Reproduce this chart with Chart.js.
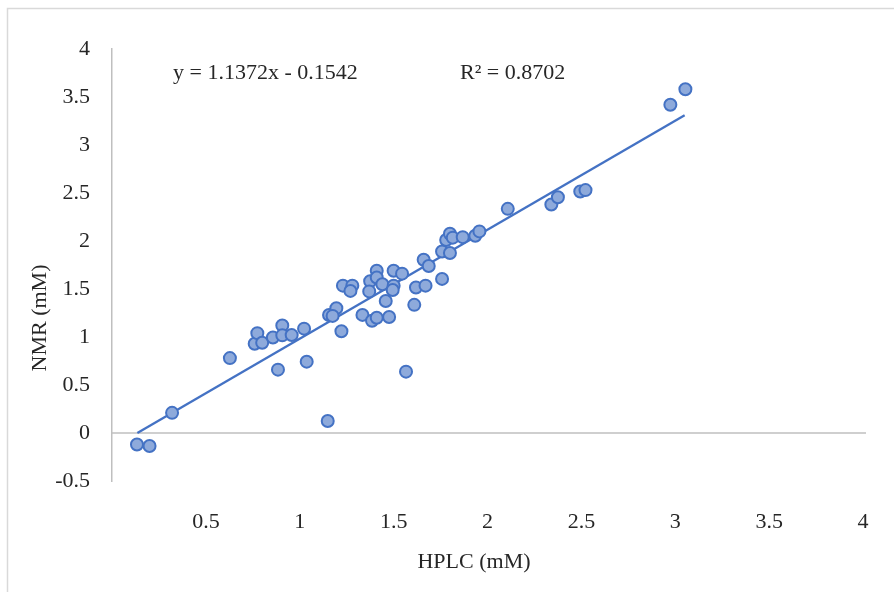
<!DOCTYPE html>
<html>
<head>
<meta charset="utf-8">
<script src="https://cdn.jsdelivr.net/npm/chart.js@4.4.0/dist/chart.umd.min.js"></script>
<style>
  html, body { margin:0; padding:0; background:#fff; }
  #wrap { width:894px; height:592px; position:relative; }
</style>
</head>
<body>
<div id="wrap"><canvas id="chart1"></canvas></div>
<script>
// ── DATA ──────────────────────────────────────────────────
const hplc = [
  0.133, 0.20, 0.32, 0.628, 0.76, 0.774, 0.80, 0.857, 0.884, 0.907,
  0.907, 0.957, 1.023, 1.037, 1.149, 1.156, 1.195, 1.175, 1.222, 1.23,
  1.28, 1.27, 1.334, 1.385, 1.41, 1.476, 1.375, 1.37, 1.41, 1.41,
  1.44, 1.458, 1.50, 1.545, 1.50, 1.495, 1.566, 1.61, 1.619, 1.67,
  1.66, 1.687, 1.758, 1.758, 1.80, 1.78, 1.80, 1.815, 1.868, 1.935,
  1.957, 2.108, 2.34, 2.375, 2.494, 2.522, 2.974, 3.054,
];
const nmr = [
  -0.12, -0.135, 0.21, 0.78, 0.93, 1.04, 0.94, 0.995, 0.66, 1.12,
  1.017, 1.02, 1.087, 0.743, 0.125, 1.229, 1.299, 1.22, 1.06, 1.535,
  1.535, 1.48, 1.23, 1.17, 1.20, 1.208, 1.58, 1.475, 1.69, 1.62,
  1.55, 1.375, 1.69, 1.66, 1.535, 1.49, 0.639, 1.335, 1.515, 1.535,
  1.805, 1.74, 1.605, 1.89, 1.875, 2.01, 2.075, 2.035, 2.04, 2.055,
  2.10, 2.335, 2.38, 2.455, 2.515, 2.53, 3.42, 3.58,
];
// trendline end points
const trendX = [0.135, 3.05];
const trendY = [0.0, 3.31];

const xTicks = [0, 0.5, 1, 1.5, 2, 2.5, 3, 3.5, 4];
const yTicks = [-0.5, 0, 0.5, 1, 1.5, 2, 2.5, 3, 3.5, 4];

const eqText = 'y = 1.1372x - 0.1542';
const r2Text = 'R² = 0.8702';
const xTitle = 'HPLC (mM)';
const yTitle = 'NMR (mM)';

const FONT = "'Liberation Serif', 'DejaVu Serif', serif";
const TXT  = '#262626';
const AXIS = '#bfbfbf';

// ── DECORATION PLUGIN ─────────────────────────────────────
const decor = {
  id: 'decor',
  beforeDraw(chart) {
    const c = chart.ctx;
    c.save();
    c.fillStyle = '#fff';
    c.fillRect(0, 0, chart.width, chart.height);
    // outer chart frame (top + left only visible)
    c.strokeStyle = '#d9d9d9';
    c.lineWidth = 1.5;
    c.beginPath();
    c.moveTo(7.5, chart.height);
    c.lineTo(7.5, 8.5);
    c.lineTo(chart.width, 8.5);
    c.stroke();
    // horizontal axis line at y = 0
    const y0 = chart.scales.y.getPixelForValue(0);
    const a = chart.chartArea;
    c.strokeStyle = AXIS;
    c.lineWidth = 1.5;
    c.beginPath();
    c.moveTo(a.left, y0);
    c.lineTo(a.right + 3, y0);
    c.stroke();
    c.restore();
  },
  afterDraw(chart) {
    const c = chart.ctx;
    c.save();
    c.fillStyle = TXT;
    c.textBaseline = 'middle';
    c.font = `22px ${FONT}`;
    c.textAlign = 'left';
    c.fillText(eqText, 173, 73);
    c.fillText(r2Text, 460, 73);
    c.textAlign = 'center';
    c.fillText(xTitle, 474, 562);
    c.translate(40, 318);
    c.rotate(-Math.PI / 2);
    c.fillText(yTitle, 0, 0);
    c.restore();
  }
};

// ── CHART ─────────────────────────────────────────────────
const points = hplc.map((x, i) => ({ x, y: nmr[i] }));
const trend  = trendX.map((x, i) => ({ x, y: trendY[i] }));

new Chart(document.getElementById('chart1').getContext('2d'), {
  type: 'scatter',
  data: {
    datasets: [
      {
        type: 'line',
        data: trend,
        borderColor: '#4472c4',
        borderWidth: 2.3,
        pointRadius: 0,
        fill: false,
        order: 2,
      },
      {
        data: points,
        backgroundColor: '#8eaadb',
        borderColor: '#4472c4',
        borderWidth: 2,
        pointRadius: 6,
        order: 1,
      },
    ]
  },
  options: {
    responsive: true,
    maintainAspectRatio: false,
    animation: false,
    layout: { padding: { left: 0, top: 49, right: 31, bottom: 0 } },
    plugins: { legend: { display: false }, tooltip: { enabled: false } },
    scales: {
      x: {
        type: 'linear', min: 0, max: 4,
        afterBuildTicks: s => { s.ticks = xTicks.map(v => ({ value: v })); },
        afterFit: s => { s.height = 111; s.paddingLeft = 0; s.paddingRight = 0; },
        grid: { display: false, drawTicks: false },
        border: { display: false },
        ticks: {
          color: TXT, padding: 28,
          font: { family: FONT, size: 22 },
          callback: v => (v === 0 ? '' : String(v)),
        },
      },
      y: {
        type: 'linear', min: -0.5, max: 4,
        afterBuildTicks: s => { s.ticks = yTicks.map(v => ({ value: v })); },
        afterFit: s => { s.width = 112; },
        grid: { display: false, drawTicks: false },
        border: { display: true, color: AXIS, width: 1.5 },
        ticks: {
          color: TXT, padding: 22,
          font: { family: FONT, size: 22 },
          callback: v => String(v),
        },
      },
    },
  },
  plugins: [decor],
});
</script>
</body>
</html>
